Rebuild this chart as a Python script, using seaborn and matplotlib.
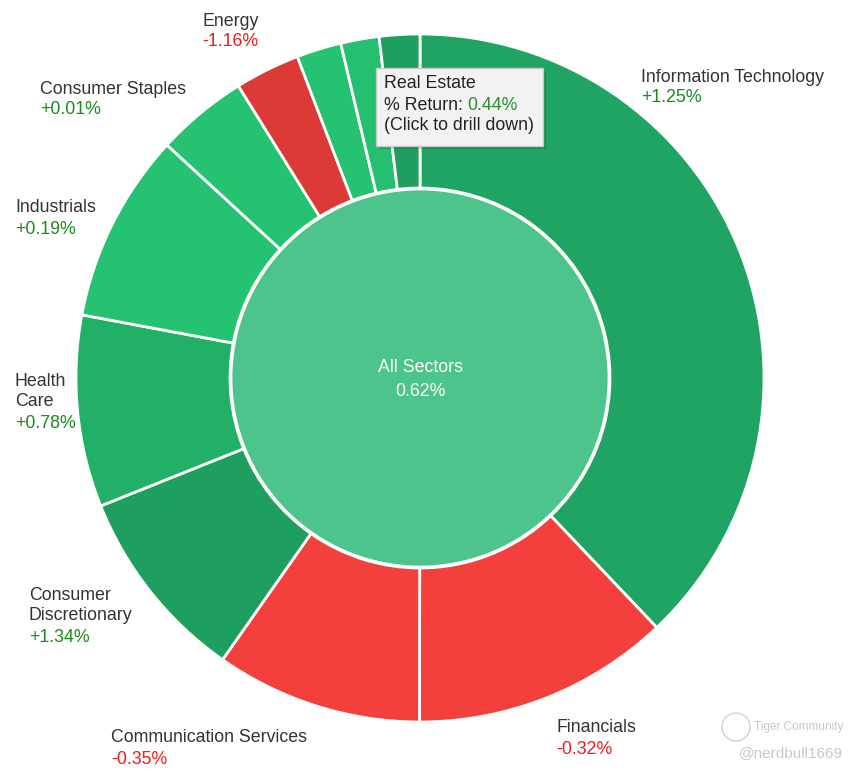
import matplotlib
matplotlib.use("Agg")
import matplotlib.pyplot as plt
from matplotlib.patches import FancyBboxPatch, Circle
import seaborn as sns

sns.set_theme(style="white")
plt.rcParams["font.family"] = ["Liberation Sans", "DejaVu Sans"]

# Sector weights (% of index), clockwise from 12 o'clock
sectors = [
    "Information Technology", "Financials", "Communication Services",
    "Consumer Discretionary", "Health Care", "Industrials",
    "Consumer Staples", "Energy", "Materials", "Utilities", "Real Estate",
]
weights = [37.9, 12.1, 9.7, 9.2, 9.0, 8.9, 4.3, 3.05, 2.1, 1.8, 1.9]
returns = [1.25, -0.32, -0.35, 1.34, 0.78, 0.19, 0.01, -1.16, None, None, 0.44]
colors = [
    "#1fa463", "#f4403c", "#f4403c", "#1e9f5f", "#22b066", "#25c271",
    "#25c271", "#dc3a36", "#25c271", "#24c070", "#1e9f5f",
]
total_label = "All Sectors"
total_return = 0.62

# label layout in pixel coords (x left, y centre of first line, wrapped name)
label_layout = {
    "Information Technology": (641, 77, "Information Technology"),
    "Financials": (556, 728, "Financials"),
    "Communication Services": (111, 738, "Communication Services"),
    "Consumer Discretionary": (29, 595, "Consumer\nDiscretionary"),
    "Health Care": (15, 381, "Health\nCare"),
    "Industrials": (15, 208, "Industrials"),
    "Consumer Staples": (40, 89, "Consumer Staples"),
    "Energy": (202, 21, "Energy"),
}

W, H = 859, 775
fig = plt.figure(figsize=(W / 100, H / 100), dpi=100)
ax = fig.add_axes([0, 0, 1, 1])

cx, cy = 420, H - 378
r_out, r_in = 344, 190

ax.pie(
    weights,
    colors=colors,
    startangle=90,
    counterclock=False,
    center=(cx, cy),
    radius=r_out,
    wedgeprops=dict(width=r_out - r_in, edgecolor="white", linewidth=2),
    frame=True,
)
ax.set_xlim(0, W)
ax.set_ylim(0, H)
ax.set_aspect("equal")
ax.axis("off")

fs = 12.8
line_h = 21

ax.add_patch(Circle((cx, cy), r_in - 1, facecolor="#4dc48b",
                    edgecolor="white", linewidth=2, zorder=3))
ax.text(cx, H - 368, total_label, color="white", fontsize=fs,
        ha="center", va="center", zorder=4)
ax.text(cx, H - 391, f"{total_return:.2f}%", color="white", fontsize=fs,
        ha="center", va="center", zorder=4)

for name, ret in zip(sectors, returns):
    if name not in label_layout or ret is None:
        continue
    x, y, txt = label_layout[name]
    nlines = txt.count("\n") + 1
    for i, part in enumerate(txt.split("\n")):
        ax.text(x, H - (y + i * line_h), part, color="#333333", fontsize=fs,
                ha="left", va="center")
    rc = "#1a8a1a" if ret >= 0 else "#ee1c1c"
    ax.text(x, H - (y + nlines * line_h), f"{ret:+.2f}%", color=rc,
            fontsize=fs, ha="left", va="center")

# tooltip for Real Estate
bx0, by0, bw, bh = 376, H - 146, 167, 78
shadow = FancyBboxPatch((bx0 + 3, by0 - 3), bw, bh,
                        boxstyle="square,pad=0", facecolor="#000000",
                        alpha=0.15, edgecolor="none", zorder=5)
ax.add_patch(shadow)
box = FancyBboxPatch((bx0, by0), bw, bh, boxstyle="square,pad=0",
                     facecolor="#f2f2f2", edgecolor="#c9c9c9",
                     linewidth=1, zorder=6)
ax.add_patch(box)
re_idx = sectors.index("Real Estate")
ax.text(384, H - 83, sectors[re_idx], color="#222222", fontsize=fs,
        ha="left", va="center", zorder=7)
t = ax.text(384, H - 105, "% Return: ", color="#222222", fontsize=fs,
            ha="left", va="center", zorder=7)
fig.canvas.draw()
bb = t.get_window_extent()
ax.text(384 + bb.width, H - 105, f"{returns[re_idx]:.2f}%", color="#2e8b2e",
        fontsize=fs, ha="left", va="center", zorder=7)
ax.text(384, H - 126, "(Click to drill down)", color="#222222", fontsize=fs,
        ha="left", va="center", zorder=7)

# watermark
ax.add_patch(Circle((736, H - 727), 14, facecolor="none",
                    edgecolor="#d0d0d0", linewidth=1))
ax.text(754, H - 727, "Tiger Community", color="#c8c8c8", fontsize=8.5,
        ha="left", va="center")
ax.text(843, H - 753, "@nerdbull1669", color="#c8c8c8", fontsize=11,
        ha="right", va="center")

fig.savefig("out.png", dpi=100)
